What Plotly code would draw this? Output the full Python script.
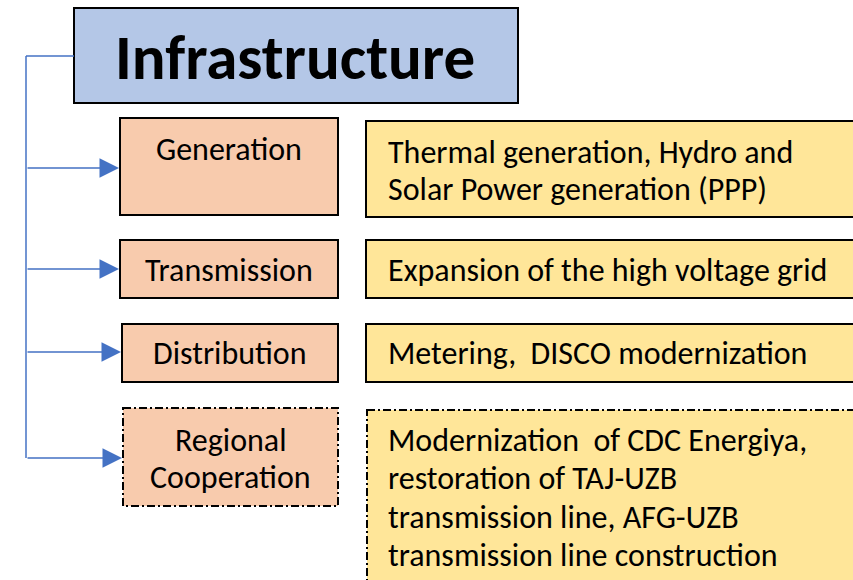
import plotly.graph_objects as go

title_text = "Infrastructure"
categories = ["Generation", "Transmission", "Distribution", "Regional<br>Cooperation"]
descriptions = [
    "Thermal generation, Hydro and<br>Solar Power generation (PPP)",
    "Expansion of the high voltage grid",
    "Metering,  DISCO modernization",
    "Modernization  of CDC Energiya,<br>restoration of TAJ-UZB<br>transmission line, AFG-UZB<br>transmission line construction",
]

# layout geometry (pixels, y downward)
title_box = (74, 8, 518, 103)
cat_boxes = [(120, 118, 338, 215), (120, 240, 338, 298), (122, 324, 338, 382), (123, 408, 338, 506)]
desc_boxes = [(366, 121, 862, 217), (366, 240, 862, 298), (366, 324, 862, 382), (367, 410, 862, 590)]
cat_text_y = [[149], [270], [353], [440, 477]]
desc_text_y = [[152, 189], [270], [353], [440, 478, 517, 555]]
arrow_y = [168, 269, 352, 458]
dashed = [False, False, False, True]
spine_x = 26

BLUE = "#4472C4"
FONT = "Calibri, Carlito, Lato, sans-serif"
SIZE = 32

fig = go.Figure()
fig.add_trace(go.Scatter(x=[0], y=[0], mode="markers", marker=dict(opacity=0), hoverinfo="skip", showlegend=False))

shapes = []
annotations = []

x0, y0, x1, y1 = title_box
shapes.append(dict(type="rect", x0=x0, y0=y0, x1=x1, y1=y1, fillcolor="#B4C7E7",
                   line=dict(color="black", width=2), layer="below"))
annotations.append(dict(x=295, y=57, text="<b>" + title_text + "</b>",
                        showarrow=False, font=dict(family=FONT, size=63, color="black"),
                        xanchor="center", yanchor="middle"))

# connector
shapes.append(dict(type="line", x0=x0, y0=56, x1=spine_x, y1=56, line=dict(color=BLUE, width=1.5)))
shapes.append(dict(type="line", x0=spine_x, y0=56, x1=spine_x, y1=arrow_y[-1], line=dict(color=BLUE, width=1.5)))

for i, cat in enumerate(categories):
    cx0, cy0, cx1, cy1 = cat_boxes[i]
    dx0, dy0, dx1, dy1 = desc_boxes[i]
    dash = "8px,3px,2px,3px" if dashed[i] else "solid"
    shapes.append(dict(type="rect", x0=cx0, y0=cy0, x1=cx1, y1=cy1, fillcolor="#F8CBAD",
                       line=dict(color="black", width=2, dash=dash), layer="below"))
    shapes.append(dict(type="rect", x0=dx0, y0=dy0, x1=dx1, y1=dy1, fillcolor="#FFE699",
                       line=dict(color="black", width=2, dash=dash), layer="below"))
    for line, yy in zip(cat.split("<br>"), cat_text_y[i]):
        annotations.append(dict(x=(cx0 + cx1) / 2, y=yy, text=line, showarrow=False,
                                font=dict(family=FONT, size=SIZE, color="black"),
                                xanchor="center", yanchor="middle", align="center"))
    for line, yy in zip(descriptions[i].split("<br>"), desc_text_y[i]):
        annotations.append(dict(x=386, y=yy, text=line, showarrow=False,
                                font=dict(family=FONT, size=SIZE, color="black"),
                                xanchor="left", yanchor="middle", align="left"))
    annotations.append(dict(x=cx0 - 1, y=arrow_y[i], ax=spine_x, ay=arrow_y[i], axref="x", ayref="y",
                            xref="x", yref="y", text="", showarrow=True, arrowhead=2,
                            arrowsize=2.6, arrowwidth=1.5, arrowcolor=BLUE, standoff=0))

fig.update_layout(
    width=853, height=580,
    margin=dict(l=0, r=0, t=0, b=0),
    paper_bgcolor="white", plot_bgcolor="white",
    xaxis=dict(range=[0, 853], visible=False, fixedrange=True),
    yaxis=dict(range=[580, 0], visible=False, fixedrange=True),
    shapes=shapes, annotations=annotations,
    showlegend=False,
)
fig.write_html("out.html", config={"displayModeBar": False},
               post_script="document.body.style.margin='0';document.body.style.padding='0';")
